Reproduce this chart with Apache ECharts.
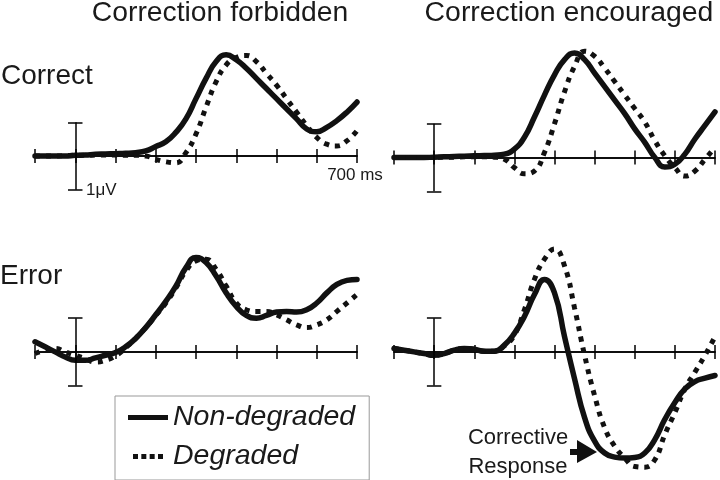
<!DOCTYPE html>
<html>
<head>
<meta charset="utf-8">
<script src="https://cdn.jsdelivr.net/npm/echarts@6/dist/echarts.min.js"></script>
<style>
  html, body { margin: 0; padding: 0; background: #fff; }
  #chart { width: 720px; height: 480px; }
</style>
</head>
<body>
<div id="chart"></div>
<script>
// time axis (ms), one sample every 25 ms
const times = [-100, -75, -50, -25, 0, 25, 50, 75, 100, 125, 150, 175, 200, 225, 250, 275,
  300, 325, 350, 375, 400, 425, 450, 475, 500, 525, 550, 575, 600, 625, 650, 675, 700];

// amplitudes, in scale-bar units
// Correct trials, correction forbidden
const correctForbiddenNonDeg = [0, 0, 0, 0, 0.02, 0.03, 0.05, 0.06, 0.07, 0.08, 0.1, 0.15, 0.28, 0.42,
  0.7, 1.1, 1.7, 2.3, 2.8, 3.0, 2.85, 2.6, 2.3, 2.0, 1.7, 1.4, 1.1, 0.8, 0.72, 0.85, 1.05, 1.3, 1.6];
const correctForbiddenDeg = [0, 0, 0, 0.01, 0.02, 0.02, 0.03, 0.03, 0.03, 0.02, 0.02, 0.0, -0.1, -0.17,
  -0.2, 0.1, 0.65, 1.45, 2.2, 2.7, 2.92, 2.98, 2.8, 2.45, 2.1, 1.7, 1.3, 0.9, 0.55, 0.35, 0.3, 0.45, 0.75];

// Correct trials, correction encouraged
const correctEncouragedNonDeg = [0, 0, 0, 0, 0.01, 0.02, 0.03, 0.04, 0.05, 0.06, 0.07, 0.1, 0.25, 0.6,
  1.2, 1.85, 2.45, 2.9, 3.1, 2.9, 2.5, 2.1, 1.7, 1.3, 0.85, 0.45, 0.0, -0.28, -0.2, 0.1, 0.55, 0.95, 1.35];
const correctEncouragedDeg = [0, 0, 0, 0, 0, 0.01, 0.01, 0.02, 0.02, 0.02, 0.01, -0.05, -0.3, -0.48,
  -0.4, 0.15, 1.0, 1.95, 2.7, 3.15, 3.0, 2.65, 2.25, 1.85, 1.45, 1.05, 0.5, 0.05, -0.3, -0.55, -0.4, -0.05, 0.3];

// Error trials, correction forbidden
const errorForbiddenNonDeg = [0.3, 0.15, 0.0, -0.15, -0.25, -0.25, -0.18, -0.1, -0.02, 0.15, 0.4, 0.72,
  1.1, 1.5, 1.95, 2.5, 2.8, 2.65, 2.25, 1.75, 1.35, 1.08, 1.0, 1.08, 1.18, 1.2, 1.18, 1.25, 1.45, 1.75, 2.0, 2.12, 2.15];
const errorForbiddenDeg = [-0.05, 0.05, 0.1, 0.0, -0.1, -0.2, -0.3, -0.25, -0.12, 0.12, 0.4, 0.72,
  1.08, 1.45, 1.9, 2.4, 2.7, 2.75, 2.45, 1.95, 1.45, 1.25, 1.2, 1.2, 1.1, 0.95, 0.8, 0.72, 0.8, 0.95, 1.2, 1.45, 1.7];

// Error trials, correction encouraged
const errorEncouragedNonDeg = [0.1, 0.05, 0.0, -0.05, -0.1, -0.05, 0.05, 0.1, 0.08, 0.02, 0.02, 0.2,
  0.55, 1.05, 1.7, 2.15, 1.75, 0.45, -0.8, -1.95, -2.65, -3.0, -3.12, -3.15, -3.13, -3.0, -2.6, -2.0, -1.5, -1.1, -0.88, -0.78, -0.7];
const errorEncouragedDeg = [0.1, 0.05, 0.0, -0.05, -0.1, -0.05, 0.05, 0.1, 0.08, 0.02, 0.02, 0.18,
  0.5, 1.25, 2.15, 2.75, 3.05, 2.55, 1.3, -0.1, -1.3, -2.25, -2.8, -3.15, -3.4, -3.42, -3.2, -2.45, -1.8, -1.1, -0.6, -0.1, 0.45];

const seriesNames = ['Non-degraded', 'Degraded'];
const columnTitles = ['Correction forbidden', 'Correction encouraged'];
const rowTitles = ['Correct', 'Error'];
const scaleLabel = '1μV';
const timeLabel = '700 ms';
const annotationLines = ['Corrective', 'Response'];

// scale bar: +/-1 unit at t = 0, caps +/-18 ms wide
const scaleBarHalf = 1;
const capHalf = 18;

const FONT = '"Liberation Sans", Arial, sans-serif';
const INK = '#1a1a1a';

const chart = echarts.init(document.getElementById('chart'));

// px per unit is 33.75 on both rows
const panels = [
  { grid: { left: 35, width: 322, top: 37.9, height: 168.75 }, yMin: -1.5, yMax: 3.5,
    nd: correctForbiddenNonDeg, dg: correctForbiddenDeg },
  { grid: { left: 394, width: 321, top: 39.4, height: 168.75 }, yMin: -1.5, yMax: 3.5,
    nd: correctEncouragedNonDeg, dg: correctEncouragedDeg },
  { grid: { left: 35, width: 322, top: 237.25, height: 243 }, yMin: -3.8, yMax: 3.4,
    nd: errorForbiddenNonDeg, dg: errorForbiddenDeg },
  { grid: { left: 394, width: 321, top: 237.25, height: 243 }, yMin: -3.8, yMax: 3.4,
    nd: errorEncouragedNonDeg, dg: errorEncouragedDeg },
];

const grids = [], xAxes = [], yAxes = [], series = [];

panels.forEach((p, i) => {
  grids.push(p.grid);
  // y axis kept "shown" so the x axes can sit on its zero, but nothing of it is drawn
  yAxes.push({
    type: 'value', gridIndex: i, min: p.yMin, max: p.yMax,
    axisLine: { show: false, onZero: false }, axisTick: { show: false },
    axisLabel: { show: false }, splitLine: { show: false },
  });
  const makeX = (position) => ({
    type: 'value', gridIndex: i, min: -100, max: 700, interval: 100, position,
    axisLine: { onZero: true, onZeroAxisIndex: i, lineStyle: { color: '#000', width: 1.5 } },
    axisTick: { show: true, length: 7, lineStyle: { color: '#000', width: 1.5 } },
    splitLine: { show: false },
    axisLabel: { show: false },
  });
  // one axis for the ticks below the line, one for the ticks above it
  xAxes.push(makeX('bottom'));
  xAxes.push(makeX('top'));

  const xi = i * 2;
  series.push({
    name: seriesNames[0], type: 'line', xAxisIndex: xi, yAxisIndex: i,
    data: times.map((t, k) => [t, p.nd[k]]),
    smooth: true, symbol: 'none', clip: false, animation: false,
    itemStyle: { color: '#111' },
    lineStyle: { color: '#111', width: 5.5, cap: 'round', join: 'round' },
    markLine: {
      silent: true, symbol: 'none', animation: false, label: { show: false },
      lineStyle: { color: '#000', width: 1.5, type: 'solid' },
      data: [
        [{ coord: [0, -scaleBarHalf] }, { coord: [0, scaleBarHalf] }],
        [{ coord: [-capHalf, scaleBarHalf] }, { coord: [capHalf, scaleBarHalf] }],
        [{ coord: [-capHalf, -scaleBarHalf] }, { coord: [capHalf, -scaleBarHalf] }],
      ],
    },
  });
  series.push({
    name: seriesNames[1], type: 'line', xAxisIndex: xi, yAxisIndex: i,
    data: times.map((t, k) => [t, p.dg[k]]),
    smooth: true, symbol: 'none', clip: false, animation: false,
    itemStyle: { color: '#111' },
    lineStyle: { color: '#111', width: 5, type: [5, 6], cap: 'butt' },
  });
});

const textEl = (text, x, y, size, align) => ({
  type: 'text', x, y, silent: true,
  style: {
    text, fill: INK, font: size + 'px ' + FONT,
    textAlign: align, textVerticalAlign: 'middle',
  },
});

chart.setOption({
  backgroundColor: '#fff',
  animation: false,
  grid: grids,
  xAxis: xAxes,
  yAxis: yAxes,
  series,
  legend: {
    data: [
      { name: seriesNames[0], icon: 'rect' },
      { name: seriesNames[1], icon: 'path://M0,0h6v6h-6z M10,0h6v6h-6z M20,0h6v6h-6z M30,0h6v6h-6z' },
    ],
    orient: 'vertical', left: 115, top: 396,
    padding: [7, 14, 9, 13],
    itemWidth: 40, itemHeight: 5, itemGap: 10,
    borderColor: '#999', borderWidth: 1,
    selectedMode: false,
    itemStyle: { color: '#111', borderWidth: 0 },
    textStyle: { fontSize: 28.5, fontStyle: 'italic', fontFamily: FONT, color: INK },
  },
  graphic: [
    textEl(columnTitles[0], 220, 13, 28.3, 'center'),
    textEl(columnTitles[1], 569, 13, 28.4, 'center'),
    textEl(rowTitles[0], 1, 76, 28, 'left'),
    textEl(rowTitles[1], 0, 276, 28, 'left'),
    textEl(scaleLabel, 86, 190, 17, 'left'),
    textEl(timeLabel, 355, 175, 17, 'center'),
    textEl(annotationLines[0], 518, 438, 22, 'center'),
    textEl(annotationLines[1], 518, 467, 22, 'center'),
    {
      type: 'polygon', silent: true,
      shape: { points: [[570, 449], [577, 449], [577, 440], [597, 452], [577, 463], [577, 455], [570, 455]] },
      style: { fill: '#111' },
    },
  ],
});
</script>
</body>
</html>
